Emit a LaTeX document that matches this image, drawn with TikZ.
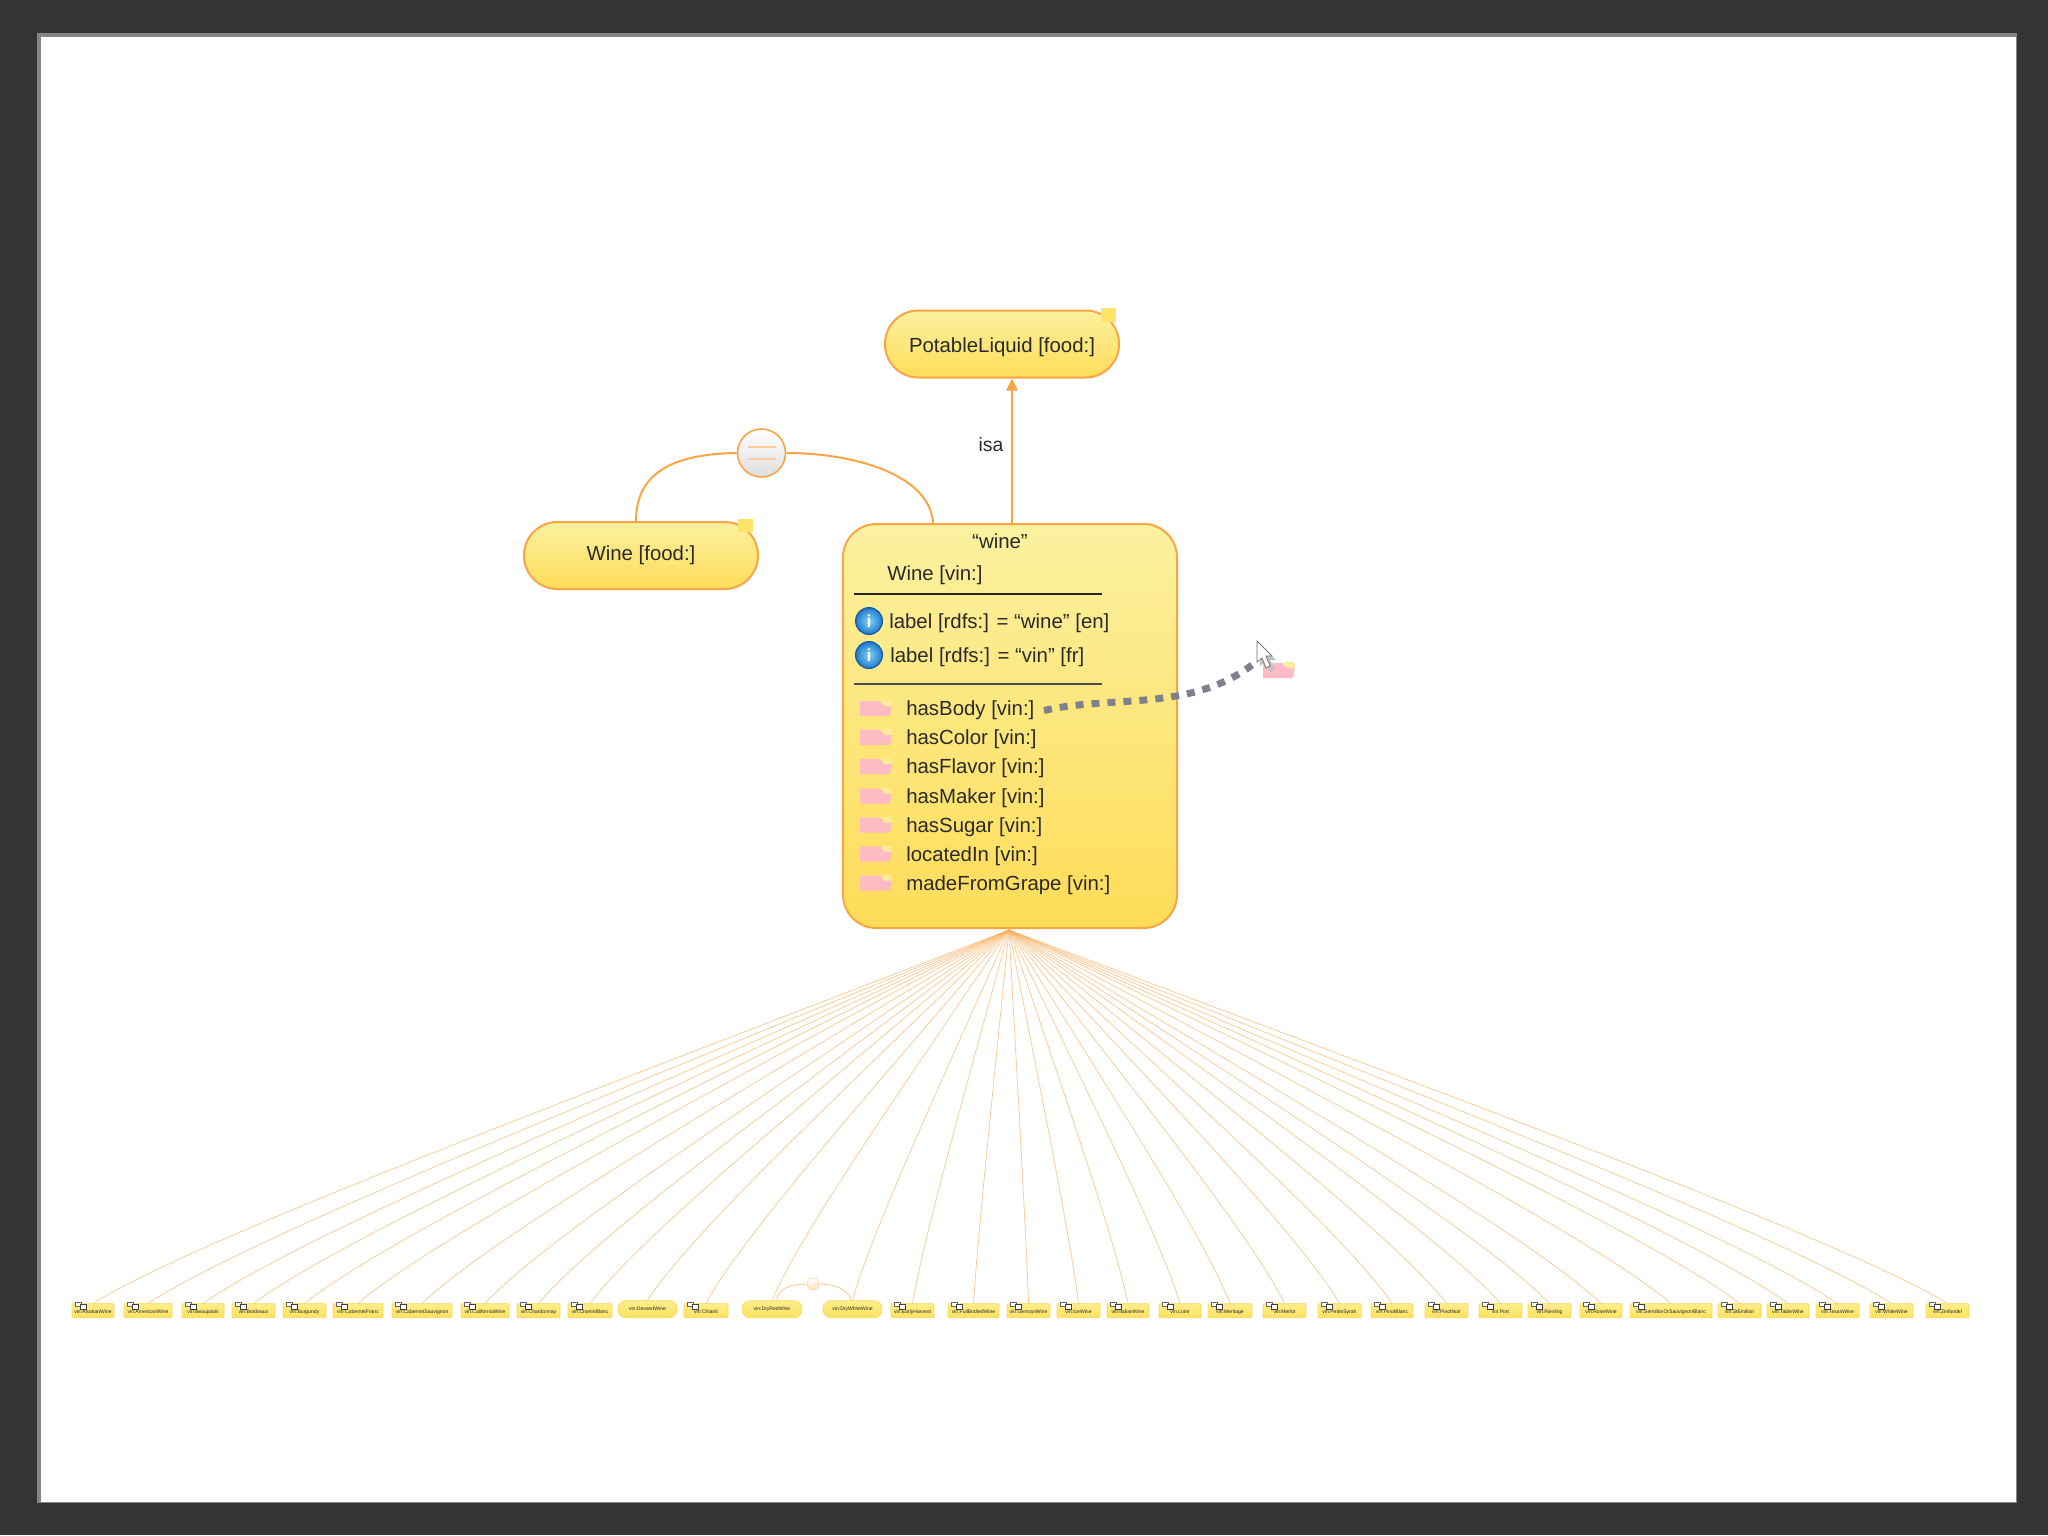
\documentclass[tikz,border=0pt]{standalone}
\usepackage{fontspec}
\setmainfont{Liberation Sans}
\usetikzlibrary{calc,arrows.meta,shapes.geometric}
\definecolor{frameC}{HTML}{343434}
\definecolor{frameEdge}{HTML}{858585}
\definecolor{edgeC}{HTML}{F9A544}
\definecolor{fanC}{HTML}{F8B060}
\definecolor{topY}{HTML}{FBF1A0}
\definecolor{botY}{HTML}{FEDC58}
\definecolor{noteY}{HTML}{FDE468}
\definecolor{pinkF}{HTML}{FDBBC4}
\definecolor{tabY}{HTML}{FDEB9A}
\definecolor{dragC}{HTML}{80808C}
\definecolor{txtC}{HTML}{2A2A2A}
\definecolor{smallTop}{HTML}{FDEE8C}
\definecolor{smallBot}{HTML}{FEE25E}
\definecolor{ballIn}{HTML}{86D2F6}
\definecolor{ballOut}{HTML}{1E7CCB}
\definecolor{ballRim}{HTML}{1A5AA8}
\tikzset{
  classnode/.style={draw=edgeC,line width=1.5pt,top color=topY,bottom color=botY,rounded corners=25pt,inner sep=0pt,text=txtC,font=\fontsize{15.3}{18}\selectfont},
  rowtext/.style={anchor=west,inner sep=0pt,text=txtC,font=\fontsize{15.3}{18}\selectfont},
  rulebar/.style={line width=1.6pt,draw=black!85},
  notebox/.style={fill=noteY,draw=none},
  linkline/.style={draw=edgeC,line width=1.5pt},
  fanline/.style={draw=fanC,line width=.62pt,opacity=.62},
  smallnode/.style={draw=smallBot!80!edgeC,line width=.5pt,top color=smallTop,bottom color=smallBot,inner sep=0pt,minimum height=10.5pt,text=black!85,font=\fontsize{3.8}{4}\selectfont},
  smallbox/.style={smallnode,rounded corners=.6pt,text height=4.6pt,text depth=0pt},
  smallpill/.style={smallnode,rounded corners=6pt,minimum height=12.8pt},
  infoball/.style={circle,draw=ballRim,line width=1pt,inner color=ballIn,outer color=ballOut,minimum size=20pt,inner sep=0pt,text=white,font=\bfseries\fontsize{13}{13}\selectfont},
  eqcircle/.style={circle,draw=edgeC,line width=1.2pt,top color=white,bottom color=black!13,minimum size=36pt,inner sep=0pt},
  eqsmall/.style={circle,draw=edgeC!50,line width=.4pt,top color=white,bottom color=edgeC!35,minimum size=9pt,inner sep=0pt}
}
\newcommand{\wfolder}[2]{%
  \fill[pinkF] (#1,#2-8) -- (#1+20,#2-8) -- (#1+23,#2-4) -- (#1+32,#2-4) -- (#1+30,#2+7) -- (#1,#2+7) -- cycle;
  \fill[tabY] (#1+21,#2-9) -- (#1+31,#2-9) -- (#1+32,#2-3) -- (#1+24,#2-3) -- cycle;
}
\def\plainboxkind{smallbox}
\begin{document}
\begin{tikzpicture}[x=.75pt,y=-.75pt]
\fill[frameC] (0,0) rectangle (2048,1535);
\useasboundingbox (0,0) rectangle (2048,1535);
\fill[frameEdge] (37,33) rectangle (2017,1503);
\fill[white] (41,37) rectangle (2016,1502);

% main nodes
\node[classnode,minimum width=175.5pt,minimum height=50.25pt,text height=13pt,text depth=0pt] (pot) at (1002,344) {PotableLiquid [food:]};
\node[classnode,minimum width=175.5pt,minimum height=50.25pt] (wf) at (641,555.5) {Wine [food:]};
\node[classnode,minimum width=250.5pt,minimum height=303pt] (wb) at (1010,726) {};
\fill[notebox] (1101,308) rectangle (1116,322);
\fill[notebox] (738,519) rectangle (753,532);

% isa
\coordinate (isax) at (1012,450);
\draw[linkline,-{Triangle[length=9pt,width=8.5pt]}] (wb.north -| isax) -- (pot.south -| isax);
\node[inner sep=0pt,text=txtC,font=\fontsize{14.5}{18}\selectfont] (isalabel) at (991,445) {isa};

% equivalence
\node[eqcircle] (eq) at (761.5,453) {};
\draw[draw=edgeC!55,line width=1.8pt] (748,447) -- (776,447) (748,459) -- (776,459);
\coordinate (eqa) at (636,500);
\coordinate (eqb) at (933,500);
\draw[linkline] (wf.north -| eqa) .. controls (636,478) and (665,454) .. (eq.west);
\draw[linkline] (eq.east) .. controls (855,453) and (930,475) .. (wb.north -| eqb);

% main box contents
\node[inner sep=0pt,text=txtC,font=\fontsize{15.3}{18}\selectfont] (t0) at (1000,541) {“wine”};
\node[rowtext] (t1) at (887,575) {Wine [vin:]};
\draw[rulebar] (854,594) -- (1102,594);
\node[infoball] (i1) at (869,621) {i};
\node[rowtext] (t2) at (889,623) {label [rdfs:] = “wine” [en]};
\node[infoball] (i2) at (869,655) {i};
\node[rowtext] (t3) at (890,657) {label [rdfs:] = “vin” [fr]};
\draw[rulebar,draw=black!70] (854,684) -- (1102,684);
\foreach \yy/\lab/\nm in {710.5/hasBody [vin:]/pa,739.5/hasColor [vin:]/pb,768.5/hasFlavor [vin:]/pc,798/hasMaker [vin:]/pd,827/hasSugar [vin:]/pe,856/locatedIn [vin:]/pf,885/madeFromGrape [vin:]/pg}{
  \wfolder{860}{\yy-1.5}
  \node[rowtext] (\nm) at (906,\yy) {\lab};
}

% dragged property
\wfolder{1263}{671}
\coordinate (dragend) at (1252,665);
\draw[draw=dragC,line width=5.2pt,dash pattern=on 6pt off 6pt] ([xshift=7pt]pa.east) .. controls (1110,695) and (1190,712) .. (dragend);
\fill[black!25] (1260,645) -- (1260,666) -- (1265,662) -- (1270,672) -- (1275,670) -- (1270,660) -- (1276,660) -- cycle;
\draw[draw=black!55,fill=white,line width=.6pt] (1257,641) -- (1257,662) -- (1262,658) -- (1266,668) -- (1270,666) -- (1266,656) -- (1272,656) -- cycle;

% bottom nodes
\coordinate (apex) at (1009,930);
\foreach \i/\xa/\xb/\st/\lab in {
 1/72/114/smallbox/vin:AlsatianWine,
 2/124/172/smallbox/vin:AmericanWine,
 3/182/224/smallbox/vin:Beaujolais,
 4/232/275/smallbox/vin:Bordeaux,
 5/283/326/smallbox/vin:Burgundy,
 6/333/383/smallbox/vin:CabernetFranc,
 7/392/452/smallbox/vin:CabernetSauvignon,
 8/461/509/smallbox/vin:CaliforniaWine,
 9/517/560/smallbox/vin:Chardonnay,
 10/568/612/smallbox/vin:CheninBlanc,
 11/618/677/smallpill/vin:DessertWine,
 12/684/728/smallbox/vin:Chianti,
 13/742/802/smallpill/vin:DryRedWine,
 14/823/882/smallpill/vin:DryWhiteWine,
 15/891/934/smallbox/vin:EarlyHarvest,
 16/948/999/smallbox/vin:FullBodiedWine,
 17/1007/1050/smallbox/vin:GermanWine,
 18/1057/1100/smallbox/vin:IceWine,
 19/1107/1149/smallbox/vin:ItalianWine,
 20/1159/1201/smallbox/vin:Loire,
 21/1208/1252/smallbox/vin:Meritage,
 22/1263/1306/smallbox/vin:Merlot,
 23/1318/1361/smallbox/vin:PetiteSyrah,
 24/1371/1413/smallbox/vin:PinotBlanc,
 25/1425/1468/smallbox/vin:PinotNoir,
 26/1479/1522/smallbox/vin:Port,
 27/1528/1571/smallbox/vin:Riesling,
 28/1580/1622/smallbox/vin:RoseWine,
 29/1630/1712/smallbox/vin:SemillonOrSauvignonBlanc,
 30/1718/1761/smallbox/vin:StEmilion,
 31/1767/1809/smallbox/vin:TableWine,
 32/1816/1859/smallbox/vin:TexasWine,
 33/1870/1913/smallbox/vin:WhiteWine,
 34/1926/1969/smallbox/vin:Zinfandel}{
  \pgfmathsetmacro{\cx}{(\xa+\xb)/2}
  \pgfmathsetmacro{\boxw}{(\xb-\xa)*.75}
  \node[\st,minimum width=\boxw pt,anchor=south] (n\i) at (\cx,1318) {\lab};
  \draw[fanline] (apex) .. controls ($(apex)!.5!(n\i.north)+(0,-10)$) and ($(apex)!.88!(n\i.north)+(0,-22)$) .. (n\i.north);
  \edef\curkind{\st}
  \ifx\curkind\plainboxkind
    \draw[draw=black!60,fill=white,line width=.4pt] (\xa+3,1302) rectangle (\xa+9,1306.5);
    \draw[draw=black!75,fill=white,line width=.55pt] (\xa+8,1304) rectangle (\xa+14,1309);
  \fi
}
\node[eqsmall] (eqs) at (813,1284) {};
\coordinate (eqsa) at (777,1290);
\coordinate (eqsb) at (851,1290);
\draw[draw=edgeC!55,line width=.7pt] (n13.north -| eqsa) .. controls (777,1292) and (785,1284) .. (eqs.west);
\draw[draw=edgeC!55,line width=.7pt] (eqs.east) .. controls (835,1284) and (849,1290) .. (n14.north -| eqsb);
\end{tikzpicture}
\end{document}
